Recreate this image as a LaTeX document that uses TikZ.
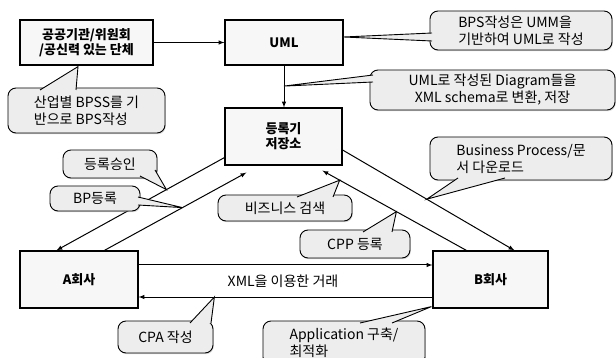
\documentclass[tikz,border=0pt]{standalone}
\usepackage{fontspec}
\setmainfont{Noto Sans CJK KR}
\usetikzlibrary{calc,shadows}

\begin{document}
\begin{tikzpicture}[x=1pt,y=-1pt,%픽셀 단위
    box/.style={draw, line width=1.2pt, fill=gray!6, inner sep=0pt, align=center,
      font=\fontsize{13}{15}\selectfont\bfseries,
      drop shadow={shadow xshift=0.8pt, shadow yshift=-1.2pt, fill=gray!60}},
    bubble/.style={draw, line width=0.9pt, fill=gray!14, rounded corners=8pt, inner sep=0pt,
      font=\fontsize{14}{17}\selectfont,
      drop shadow={shadow xshift=0.8pt, shadow yshift=-1.2pt, fill=gray!60}},
    tail/.style={draw, line width=0.9pt, fill=gray!14},
    arr/.style={line width=1pt, -latex}]
  \useasboundingbox (0,0) rectangle (616,358);%여백

  % 상자
  \node[box, minimum width=133pt, minimum height=45pt] (org) at (86.5,42.5) {공공기관/위원회\\/공신력 있는 단체};
  \node[box, minimum width=118pt, minimum height=45pt] (uml) at (284,42.5) {UML};
  \node[box, minimum width=117pt, minimum height=57pt] (repo) at (283.5,136.5) {등록기\\저장소};
  \node[box, minimum width=118pt, minimum height=57pt] (acomp) at (79,279.5) {A회사};
  \node[box, minimum width=115pt, minimum height=57pt] (bcomp) at (490.5,279.5) {B회사};

  % 화살표
  \draw[arr] (org.east) -- (org.east -| uml.west);
  \draw[arr] (uml.south) -- coordinate[pos=0.49] (t3) (uml.south |- repo.north);
  \draw[arr] ($(repo.south west)+(0,-8)$) -- coordinate[pos=0.345] (t5) ($(acomp.north west)+(37,0)$);
  \draw[arr] ($(acomp.north west)+(85,0)$) -- coordinate[pos=0.55] (t6) ($(repo.south west)+(22,7)$);
  \draw[arr] ($(bcomp.north west)+(34,0)$) -- coordinate[pos=0.486] (t8) coordinate[pos=0.88] (t7) ($(repo.south west)+(98,5)$);
  \draw[arr] ($(repo.east)+(0,13.5)$) -- coordinate[pos=0.49] (t4) ($(bcomp.north west)+(82,0)$);
  \draw[arr] ($(acomp.east)+(0,-14.5)$) -- ($(bcomp.west)+(0,-14.5)$);
  \draw[arr] ($(bcomp.west)+(0,17.5)$) -- coordinate[pos=0.742] (t9) ($(acomp.east)+(0,17.5)$);
  \node[font=\fontsize{14}{17}\selectfont] (deal) at (283,281) {XML을 이용한 거래};

  \coordinate (t1) at ($(org.south)+(-8.5,1)$);
  \coordinate (t2) at ($(uml.east)+(0,-5.5)$);
  \coordinate (t10) at ($(bcomp.south west)+(-1,-2)$);

  % 말풍선
  \node[bubble, minimum width=157pt, minimum height=45pt, align=left] (c1) at (86.5,110.5) {산업별 BPSS를 기\\반으로 BPS작성};
  \node[bubble, minimum width=182pt, minimum height=39pt, align=left] (c2) at (521,30.5) {BPS작성은 UMM을\\기반하여 UML로 작성};
  \node[bubble, minimum width=245pt, minimum height=40pt, align=center] (c3) at (492.5,90) {UML로 작성된 Diagram들을\\XML schema로 변환, 저장};
  \node[bubble, minimum width=182pt, minimum height=43pt, align=left] (c4) at (521,158.5) {Business Process/문\\서 다운로드};
  \node[bubble, minimum width=94pt, minimum height=28pt] (c5) at (110,164) {등록승인};
  \node[bubble, minimum width=90pt, minimum height=25pt] (c6) at (95,198.5) {BP등록};
  \node[bubble, minimum width=134pt, minimum height=26pt] (c7) at (285,208) {비즈니스 검색};
  \node[bubble, minimum width=110pt, minimum height=28pt] (c8) at (355,244) {CPP 등록};
  \node[bubble, minimum width=95pt, minimum height=32pt] (c9) at (165.5,337) {CPA 작성};
  \node[bubble, minimum width=162pt, minimum height=44pt, align=left] (c10) at (344,343) {Application 구축/\\최적화};

  % 꼬리
  \path[tail] (40,90) -- (t1) -- (76,90);
  \path[tail] (432,33) -- (t2) -- (432,41);
  \path[tail] (373,75) -- (t3) -- (373,82);
  \path[tail] (458,178) -- (t4) -- (505,178);
  \path[tail] (140,176) -- (t5) -- (155,170);
  \path[tail] (138,197) -- (t6) -- (138,205);
  \path[tail] (297,197) -- (t7) -- (333,197);
  \path[tail] (363,232) -- (t8) -- (392,232);
  \path[tail] (190,323) -- (t9) -- (211,323);
  \path[tail] (360,323) -- (t10) -- (392,323);
\end{tikzpicture}
\end{document}
